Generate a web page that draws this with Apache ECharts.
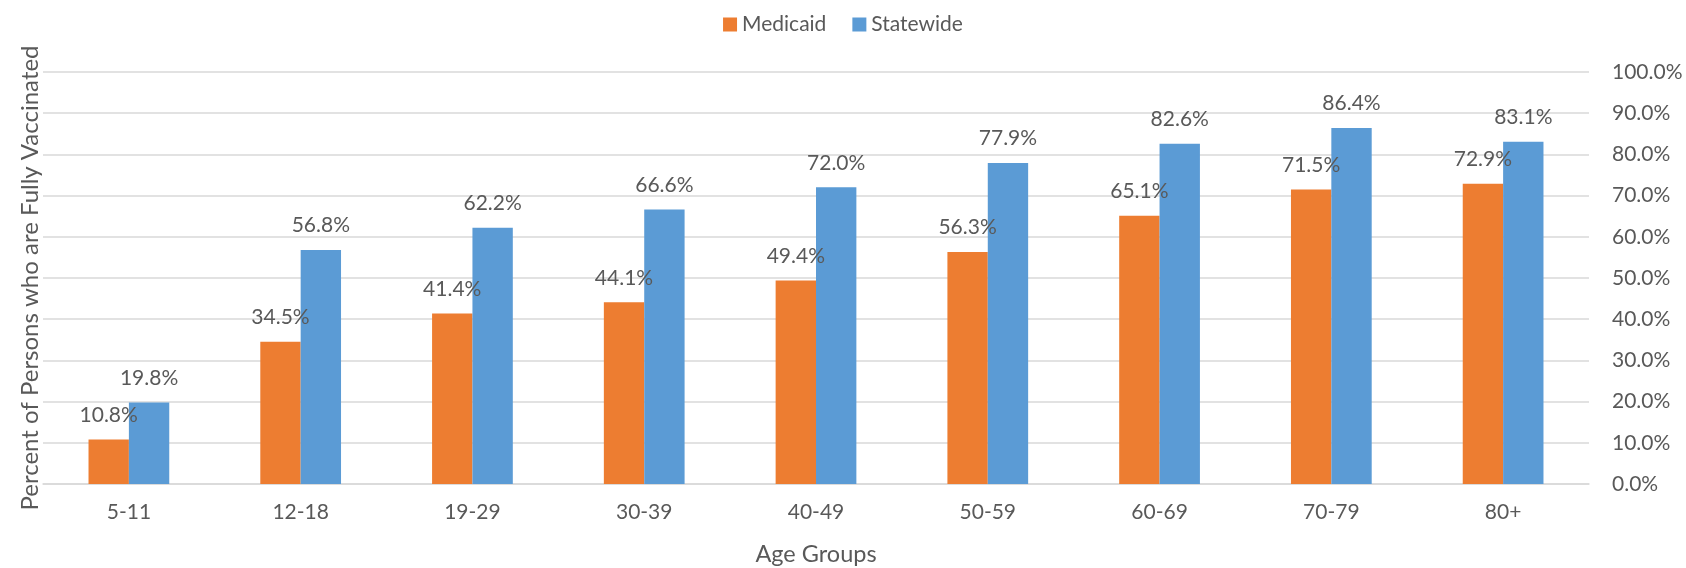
<!DOCTYPE html>
<html>
<head>
<meta charset="utf-8">
<script src="https://cdn.jsdelivr.net/npm/echarts@6/dist/echarts.min.js"></script>
<style>
html,body{margin:0;padding:0;background:#fff;}
#chart{width:1686px;height:568px;}
</style>
</head>
<body>
<div id="chart"></div>
<script>
const categories = ['5-11','12-18','19-29','30-39','40-49','50-59','60-69','70-79','80+'];
const medicaid = [10.8, 34.5, 41.4, 44.1, 49.4, 56.3, 65.1, 71.5, 72.9];
const statewide = [19.8, 56.8, 62.2, 66.6, 72.0, 77.9, 82.6, 86.4, 83.1];
const seriesNames = ['Medicaid', 'Statewide'];
const yTitle = 'Percent of Persons who are Fully Vaccinated';
const xTitle = 'Age Groups';

const FONT = 'Lato';
const TXT = '#595959';
const chart = echarts.init(document.getElementById('chart'));
const labelOpt = {
  show: true, position: 'top', distance: 14,
  color: TXT, fontFamily: FONT, fontSize: 21,
  formatter: p => p.value.toFixed(1) + '%'
};
chart.setOption({
  animation: false,
  textStyle: { fontFamily: FONT },
  legend: {
    top: 9, left: 'center',
    itemWidth: 14, itemHeight: 14, itemGap: 26,
    icon: 'rect',
    textStyle: { color: TXT, fontSize: 21, fontFamily: FONT },
    data: seriesNames
  },
  grid: { left: 43, right: 97, top: 72, bottom: 84, containLabel: false, outerBoundsMode: 'none' },
  xAxis: {
    type: 'category', data: categories,
    name: xTitle, nameLocation: 'middle', nameGap: 58,
    nameTextStyle: { color: TXT, fontSize: 23.5, fontFamily: FONT },
    axisLine: { lineStyle: { color: '#d9d9d9', width: 1.5 } },
    axisTick: { show: false },
    axisLabel: { color: TXT, fontSize: 21, fontFamily: FONT, margin: 18 }
  },
  yAxis: [{
    type: 'value', position: 'right', min: 0, max: 100, interval: 10,
    axisLine: { show: false }, axisTick: { show: false },
    axisLabel: { color: TXT, fontSize: 21, fontFamily: FONT, margin: 23,
      formatter: v => v.toFixed(1) + '%' },
    splitLine: { lineStyle: { color: '#d9d9d9', width: 1.5 } }
  }, {
    type: 'value', position: 'left', min: 0, max: 100, interval: 10,
    name: yTitle, nameLocation: 'middle', nameGap: 1, nameRotate: 90,
    nameTextStyle: { color: TXT, fontSize: 24, fontFamily: FONT },
    axisLine: { show: false }, axisTick: { show: false },
    axisLabel: { show: false }, splitLine: { show: false }
  }],
  series: [{
    name: seriesNames[0], type: 'bar', data: medicaid,
    barGap: '0%', barCategoryGap: '53%',
    itemStyle: { color: '#ED7D31' }, label: labelOpt
  }, {
    name: seriesNames[1], type: 'bar', data: statewide,
    barGap: '0%', barCategoryGap: '53%',
    itemStyle: { color: '#5B9BD5' }, label: labelOpt
  }]
});
</script>
</body>
</html>
